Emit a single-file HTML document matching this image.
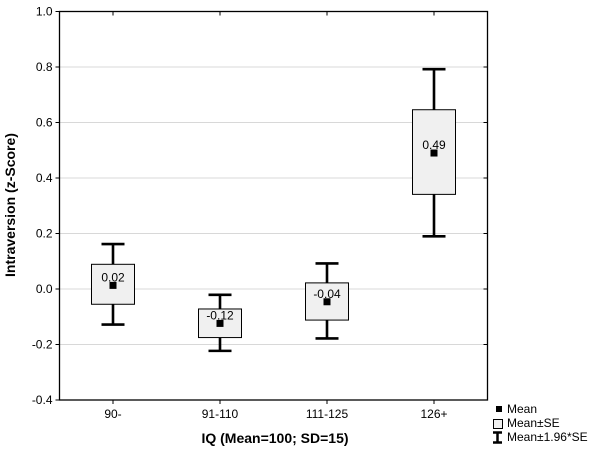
<!DOCTYPE html>
<html><head><meta charset="utf-8"><style>
body{margin:0;background:#fff;}
svg{display:block;font-family:"Liberation Sans",Arial,sans-serif;}
</style></head><body>
<svg id="chart" width="602" height="452">
<g id="grid"></g>
<g id="marks"></g>
<rect x="59.5" y="11.5" width="428" height="388.5" fill="none" stroke="#000" stroke-width="1.3"/>
<g id="axes"></g>
<text x="15" y="205" transform="rotate(-90 15 205)" text-anchor="middle" font-weight="bold" font-size="14">Intraversion (z-Score)</text>
<text x="275" y="443" text-anchor="middle" font-weight="bold" font-size="14">IQ (Mean=100; SD=15)</text>
<g font-size="12">
<rect x="496" y="406" width="6" height="6" fill="#000"/>
<text x="507" y="413">Mean</text>
<rect x="493.5" y="419.5" width="9" height="9" fill="#f0f0f0" stroke="#000"/>
<text x="507" y="427">Mean±SE</text>
<path d="M493 432.5h9M497.5 432.5v10M493 442.5h9" stroke="#000" stroke-width="2.5" fill="none"/>
<text x="507" y="441">Mean±1.96*SE</text>
</g>
</svg>
<script>
const categories = ["90-","91-110","111-125","126+"];
const means = [0.013,-0.124,-0.046,0.49];
const seLow = [-0.055,-0.175,-0.112,0.341];
const seHigh = [0.089,-0.072,0.022,0.646];
const ciLow = [-0.128,-0.223,-0.178,0.19];
const ciHigh = [0.162,-0.021,0.092,0.792];
const labels = ["0.02","-0.12","-0.04","0.49"];
const yTicks = [1.0,0.8,0.6,0.4,0.2,0.0,-0.2,-0.4];

const NS="http://www.w3.org/2000/svg";
const L=59.5,R=487.5,T=11.5,B=400;
const yMin=-0.4,yMax=1.0;
function y(v){return B-(v-yMin)/(yMax-yMin)*(B-T);}
function x(i){const bw=(R-L)/categories.length;return L+bw*(i+0.5);}
function mk(tag,attrs,parent){const e=document.createElementNS(NS,tag);for(const k in attrs)e.setAttribute(k,attrs[k]);parent.appendChild(e);return e;}
const grid=document.getElementById('grid'),marks=document.getElementById('marks'),axes=document.getElementById('axes');
yTicks.forEach(v=>{
  const yy=y(v);
  if(v<yMax&&v>yMin){const g=mk('line',{x1:L,x2:R,y1:yy,y2:yy,stroke:'#d8d8d8','stroke-width':1},grid);
  
  }
  const t=mk('line',{x1:L-4,x2:L,y1:yy,y2:yy,stroke:'#000'},axes);
  
  
  const t2=mk('line',{x1:R-4,x2:R,y1:yy,y2:yy,stroke:'#000'},axes);
  
  
  const lb=mk('text',{x:L-7,y:yy+4,'text-anchor':'end','font-size':12},axes);
  lb.textContent=v.toFixed(1);
  
  
});
categories.forEach((c,i)=>{
  const cx=x(i);
  const tb=mk('line',{x1:cx,x2:cx,y1:B,y2:B+4,stroke:'#000'},axes);
  
  
  const tt=mk('line',{x1:cx,x2:cx,y1:T,y2:T+4,stroke:'#000'},axes);
  
  
  const lb=mk('text',{x:cx,y:B+18,'text-anchor':'middle','font-size':12},axes);
  lb.textContent=c;
  
  
  const g=mk('g',{},marks);
  
  
  const wh=mk('path',{d:`M${cx-11.5} ${y(ciHigh[i])}h23M${cx} ${y(ciHigh[i])}V${y(ciLow[i])}M${cx-11.5} ${y(ciLow[i])}h23`,stroke:'#000','stroke-width':2.6,fill:'none'},g);
  
  
  const bx=mk('rect',{x:cx-21.5,y:y(seHigh[i]),width:43,height:y(seLow[i])-y(seHigh[i]),fill:'#f0f0f0',stroke:'#000','stroke-width':1},g);
  
  
  const m=mk('rect',{x:cx-3.5,y:y(means[i])-3.5,width:7,height:7,fill:'#000'},g);
  
  
  const vl=mk('text',{x:cx,y:y(means[i])-4,'text-anchor':'middle','font-size':12},g);
  vl.textContent=labels[i];
  
  
});
</script>
</body></html>
